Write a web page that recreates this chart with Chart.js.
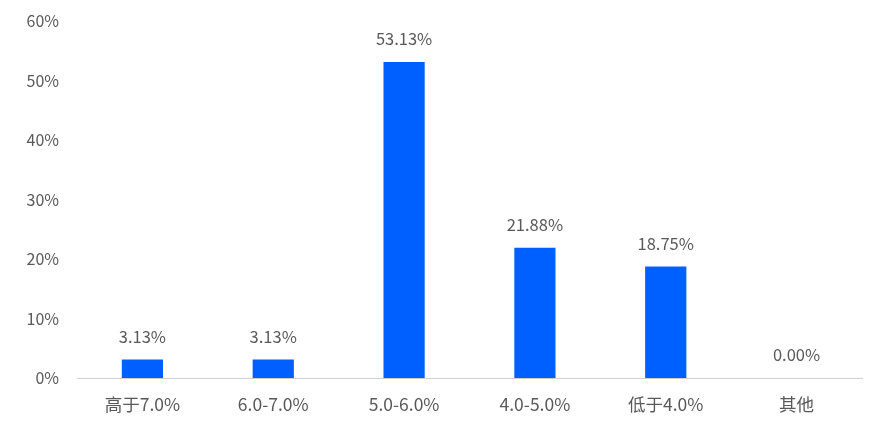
<!DOCTYPE html>
<html><head><meta charset="utf-8">
<script src="https://cdn.jsdelivr.net/npm/chart.js@4"></script>
<style>html,body{margin:0;padding:0;background:#fff}#wrap{width:882px;height:429px}</style>
</head><body><div id="wrap"><canvas id="c"></canvas></div>
<script>
const categories = ["高于7.0%", "6.0-7.0%", "5.0-6.0%", "4.0-5.0%", "低于4.0%", "其他"];
const values = [3.13, 3.13, 53.13, 21.88, 18.75, 0.00];
const yTicks = [0, 10, 20, 30, 40, 50, 60];

const FONT = "'Noto Sans CJK SC', 'Noto Sans', sans-serif";
const TEXT = "#595959";

const labelPlugin = {
  id: 'valLabels',
  afterDatasetsDraw(chart) {
    const ctx = chart.ctx;
    const meta = chart.getDatasetMeta(0);
    ctx.save();
    ctx.font = "16.5px " + FONT;
    ctx.fillStyle = TEXT;
    ctx.textAlign = 'center';
    ctx.textBaseline = 'middle';
    meta.data.forEach((bar, i) => {
      ctx.fillText(values[i].toFixed(2) + '%', bar.x, bar.y - 23);
    });
    ctx.restore();
  }
};

new Chart(document.getElementById('c'), {
  type: 'bar',
  data: {
    labels: categories,
    datasets: [{
      data: values,
      backgroundColor: '#0060FF',
      barPercentage: 0.315,
      categoryPercentage: 1.0
    }]
  },
  plugins: [labelPlugin],
  options: {
    responsive: true,
    maintainAspectRatio: false,
    animation: false,
    layout: { padding: { top: 21, right: 20, left: 0, bottom: 0 } },
    plugins: { legend: { display: false }, tooltip: { enabled: false } },
    scales: {
      x: {
        grid: { display: false, drawTicks: false },
        border: { display: true, color: '#D0D0D0', width: 1 },
        ticks: { color: TEXT, font: { family: FONT, size: 17.5 }, padding: 16 },
        afterFit(scale) { scale.height = 51; scale.paddingLeft = 0; scale.paddingRight = 0; }
      },
      y: {
        min: 0, max: 60,
        afterBuildTicks(scale) { scale.ticks = yTicks.map(v => ({ value: v })); },
        grid: { display: false, drawTicks: false },
        border: { display: false },
        ticks: { color: TEXT, font: { family: FONT, size: 16 }, padding: 18,
          callback: v => v + '%' },
        afterFit(scale) { scale.width = 77; scale.paddingTop = 0; scale.paddingBottom = 0; }
      }
    }
  }
});
</script></body></html>
